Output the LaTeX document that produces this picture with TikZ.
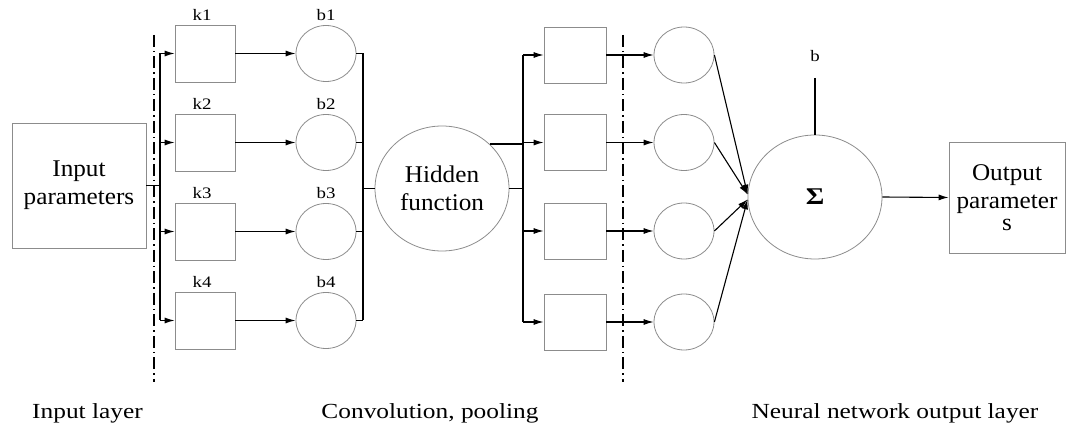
\documentclass[tikz,border=0pt]{standalone}
\usepackage{fontspec}
\setmainfont{Liberation Serif}[FakeStretch=1.18]
\newfontfamily\boxfont{Liberation Serif}[FakeStretch=1.05]
\usetikzlibrary{arrows.meta,shapes.geometric}
\definecolor{edge}{RGB}{140,140,140}
\begin{document}
\begin{tikzpicture}[x=1pt,y=-1pt,
 box/.style={rectangle, draw=edge, line width=0.8pt, inner sep=0pt, minimum width=60pt, minimum height=57pt},
 cell/.style={ellipse, draw=edge, line width=0.8pt, inner sep=0pt, minimum width=60pt, minimum height=56pt},
 conn/.style={line width=1.1pt, draw=black},
 arr/.style={conn, -{Latex[length=10pt,width=6pt]}},
 sepline/.style={line width=1.8pt, draw=black, dash pattern=on 12pt off 4pt on 1.5pt off 4pt},
 lab/.style={font=\fontsize{16}{18}\selectfont, inner sep=0pt, anchor=south},
 captxt/.style={font=\fontsize{21.5}{25}\selectfont, inner sep=0pt, anchor=base},
 big/.style={font=\boxfont\fontsize{24}{28}\selectfont, align=center}]
\useasboundingbox (0,0) rectangle (1066,427);
% separators
\coordinate (s1t) at (154,35);
\coordinate (s1b) at (154,382);
\coordinate (s2t) at (623,35);
\coordinate (s2b) at (623,382);
\draw[sepline] (s1t) -- (s1b);
\draw[sepline] (s2t) -- (s2b);
% nodes
\node[box, minimum width=134pt, minimum height=125pt, big] (inp) at (79,185.5) {Input\\parameters};
\foreach \i/\y in {1/53.5,2/142.5,3/231.5,4/320.5} {
  \node[box] (k\i) at (205,\y) {};
  \node[cell] (b\i) at (326,\y) {};
  \node[lab] (kl\i) at ([xshift=-3pt,yshift=4pt]k\i.north) {k\i};
  \node[lab] (bl\i) at ([yshift=4pt]b\i.north) {b\i};
}
\node[cell, minimum width=134pt, minimum height=125pt, big] (hid) at (442,188.5) {Hidden\\function};
\foreach \i/\y in {1/55,2/142.5,3/231,4/322} {
  \node[box, minimum width=62pt, minimum height=56pt] (c\i) at (575,\y) {};
  \node[cell] (n\i) at (684,\y) {};
}
\node[cell, minimum width=134pt, minimum height=124pt, font=\bfseries\fontsize{24}{28}\selectfont] (sig) at (815,197) {Σ};
\node[box, minimum width=116pt, minimum height=111pt, big] (out) at (1007,197.5) {Output\\parameter\\[-6pt]s};
\node[lab] (blab) at (815,62) {b};
\coordinate (btop) at (815,78);
% connectors
\coordinate (busL) at (160,0);
\coordinate (busR) at (363,0);
\coordinate (busM) at (523,0);
\draw[conn] (inp.east) -- (inp.east -| busL);
\draw[conn] (k1.west -| busL) -- (k4.west -| busL);
\draw[conn] (b1.east -| busR) -- (b4.east -| busR);
\draw[conn] (hid.west -| busR) -- (hid.west);
\draw[conn] (hid.north east) -- (hid.north east -| busM);
\draw[conn] (hid.east) -- (hid.east -| busM);
\draw[conn] (c1.west -| busM) -- (c4.west -| busM);
\foreach \i in {1,2,3,4} {
  \draw[arr] (k\i.west -| busL) -- (k\i.west);
  \draw[arr] (k\i.east) -- (b\i.west);
  \draw[conn] (b\i.east) -- (b\i.east -| busR);
  \draw[arr] (c\i.west -| busM) -- (c\i.west);
  \draw[arr] (c\i.east) -- (n\i.west);
}
\draw[arr] (n1.east) -- (sig.178);
\draw[arr] (n2.east) -- (sig.178);
\draw[arr] (n3.east) -- (sig.182);
\draw[arr] (n4.east) -- (sig.182);
\draw[conn] (btop) -- (sig.north);
\draw[arr] (sig.east) -- (out.west);
% bottom captions
\node[captxt] (l1) at (87.5,419) {Input layer};
\node[captxt] (l2) at (430,419) {Convolution, pooling};
\node[captxt] (l3) at (895,419) {Neural network output layer};
\end{tikzpicture}
\end{document}
